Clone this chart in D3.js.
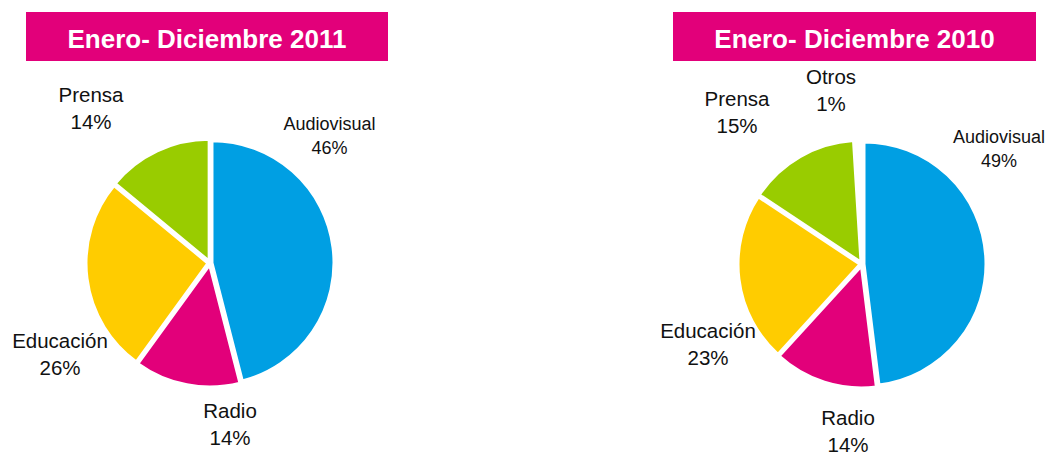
<!DOCTYPE html>
<html>
<head>
<meta charset="utf-8">
<script src="https://cdn.jsdelivr.net/npm/d3@7"></script>
<style>
  body { margin: 0; background: #fff; }
  svg { display: block; font-family: "Liberation Sans", Arial, sans-serif; }
</style>
</head>
<body>
<svg id="chart" width="1049" height="452"></svg>
<script>
/*************************Data********************* */
const categories2011 = ["Audiovisual", "Radio", "Educación", "Prensa"];
const values2011 = [46, 14, 26, 14];
const categories2010 = ["Audiovisual", "Radio", "Educación", "Prensa", "Otros"];
const values2010 = [49, 14, 23, 15, 1];
const titles = ["Enero- Diciembre 2011", "Enero- Diciembre 2010"];

/*************************Layout********************* */
const width = 1049;
const height = 452;
const radius = 122;
const explode = 2;
const svg = d3.select("svg#chart");

const colors = d3
  .scaleOrdinal()
  .domain(["Audiovisual", "Radio", "Educación", "Prensa", "Otros"])
  .range(["#009FE3", "#E2007A", "#FFCC00", "#99CC00", "#FFFFFF"]);

// label anchors relative to pie centre (first line baseline)
const labelPos2011 = [[119.5, -133], [20, 155], [-150, 85], [-119, -161]];
const labelPos2010 = [[137, -121], [-14, 161], [-154, 74], [-125, -158], [-31, -180]];

const panels = [
  { cats: categories2011, vals: values2011, title: titles[0], cx: 210, cy: 263, box: [26, 388], labels: labelPos2011 },
  { cats: categories2010, vals: values2010, title: titles[1], cx: 862, cy: 264, box: [673, 1036], labels: labelPos2010 },
];

const pie = d3.pie().sort(null).value((d) => d.value);
const arc = d3.arc().innerRadius(0).outerRadius(radius);

panels.forEach((p) => {
  // header box
  const head = svg.append("g").attr("class", "header");
  head
    .append("rect")
    .attr("x", p.box[0])
    .attr("y", 12)
    .attr("width", p.box[1] - p.box[0])
    .attr("height", 49)
    .attr("fill", "#E2007A");
  head
    .append("text")
    .text(p.title)
    .attr("x", (p.box[0] + p.box[1]) / 2)
    .attr("y", 48)
    .attr("text-anchor", "middle")
    .attr("fill", "white")
    .style("font-weight", "bold")
    .style("font-size", "26px");

  const data = p.cats.map((c, i) => ({ name: c, value: p.vals[i] }));
  const g = svg.append("g").attr("class", "pie").attr("transform", `translate(${p.cx},${p.cy})`);

  g.selectAll("path")
    .data(pie(data))
    .join("path")
    .attr("d", arc)
    .attr("fill", (d) => colors(d.data.name))
    .attr("stroke", "white")
    .attr("stroke-width", 3)
    .attr("transform", (d) => {
      const a = (d.startAngle + d.endAngle) / 2;
      return `translate(${explode * Math.sin(a)},${-explode * Math.cos(a)})`;
    });

  // labels
  const lbl = g
    .selectAll("text.label")
    .data(pie(data))
    .join("text")
    .attr("class", "label")
    .attr("text-anchor", "middle")
    .attr("fill", "#111")
    .style("font-size", (d) => (d.data.name === "Audiovisual" ? "18px" : "20.5px"))
    .attr("transform", (d, i) => `translate(${p.labels[i][0]},${p.labels[i][1]})`);
  lbl.append("tspan").attr("x", 0).attr("y", 0).text((d) => d.data.name);
  lbl
    .append("tspan")
    .attr("x", 0)
    .attr("y", (d) => (d.data.name === "Audiovisual" ? 24 : 27))
    .text((d) => `${d.data.value}%`);
});
</script>
</body>
</html>
